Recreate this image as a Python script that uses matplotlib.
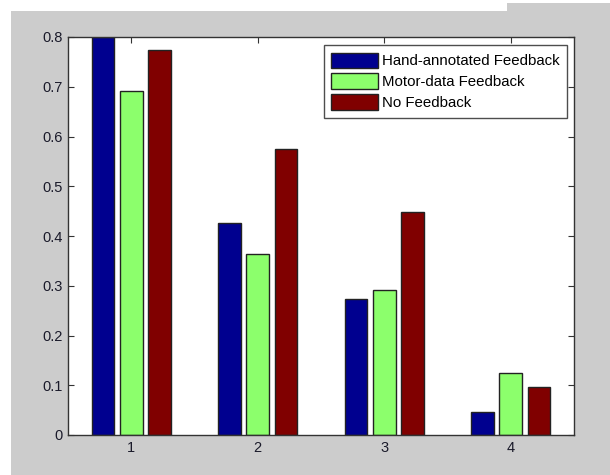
import numpy as np
import matplotlib
matplotlib.use("Agg")
import matplotlib.pyplot as plt
from matplotlib.patches import Rectangle

# fraction of trials per condition, four sessions
sessions = ["1", "2", "3", "4"]
hand_annotated = [0.80, 0.426, 0.274, 0.047]
motor_data = [0.691, 0.363, 0.292, 0.124]
no_feedback = [0.773, 0.575, 0.449, 0.096]
series_labels = ["Hand-annotated Feedback", "Motor-data Feedback", "No Feedback"]
colors = ["#00008f", "#8cff6c", "#800000"]
y_ticks = [0, 0.1, 0.2, 0.3, 0.4, 0.5, 0.6, 0.7, 0.8]

plt.rcParams['font.family'] = ['Liberation Sans', 'DejaVu Sans']

W, H = 610, 475
fig = plt.figure(figsize=(W / 100, H / 100), dpi=100, facecolor="white")

# grey window background (screen capture leaves a white strip top/left)
gray = "#cccccc"
fig.add_artist(Rectangle((11 / W, 0), 1 - 11 / W, 1 - 11 / H, transform=fig.transFigure,
                         facecolor=gray, edgecolor="none", zorder=-10))
fig.add_artist(Rectangle((507 / W, 0), 1 - 507 / W, 1 - 3 / H, transform=fig.transFigure,
                         facecolor=gray, edgecolor="none", zorder=-10))

ax = fig.add_axes([68 / W, 40 / H, (574 - 68) / W, (435 - 37) / H])
ax.set_facecolor("white")

x = np.arange(1, len(sessions) + 1)
width = 0.178
offset = 0.224
for i, (vals, lab, col) in enumerate(zip([hand_annotated, motor_data, no_feedback], series_labels, colors)):
    ax.bar(x + (i - 1) * offset, vals, width=width, color=col, edgecolor="#222222",
           linewidth=1.0, label=lab, zorder=2)

ax.set_xlim(0.5, 4.5)
ax.set_ylim(0, 0.8)
ax.set_xticks(x)
ax.set_xticklabels(sessions)
ax.set_yticks(y_ticks)
ax.set_yticklabels([f"{t:g}" for t in y_ticks])
ax.tick_params(direction="in", length=4, width=0.8, top=True, right=True,
               labelsize=10.5, colors="#333333", labelcolor="#1a1a2a", pad=4)
for sp in ax.spines.values():
    sp.set_color("#333333")
    sp.set_linewidth(1.0)

leg = ax.legend(loc="upper right", bbox_to_anchor=(567 / W, 1 - 45 / H), bbox_transform=fig.transFigure,
                fontsize=10.8, frameon=True, fancybox=False, handlelength=3.1, handleheight=1.25,
                handletextpad=0.27, borderpad=0.5, labelspacing=0.33, borderaxespad=0)
leg.get_frame().set_edgecolor("#222222")
leg.get_frame().set_linewidth(1.0)

fig.savefig("out.png", dpi=100, facecolor=fig.get_facecolor())
